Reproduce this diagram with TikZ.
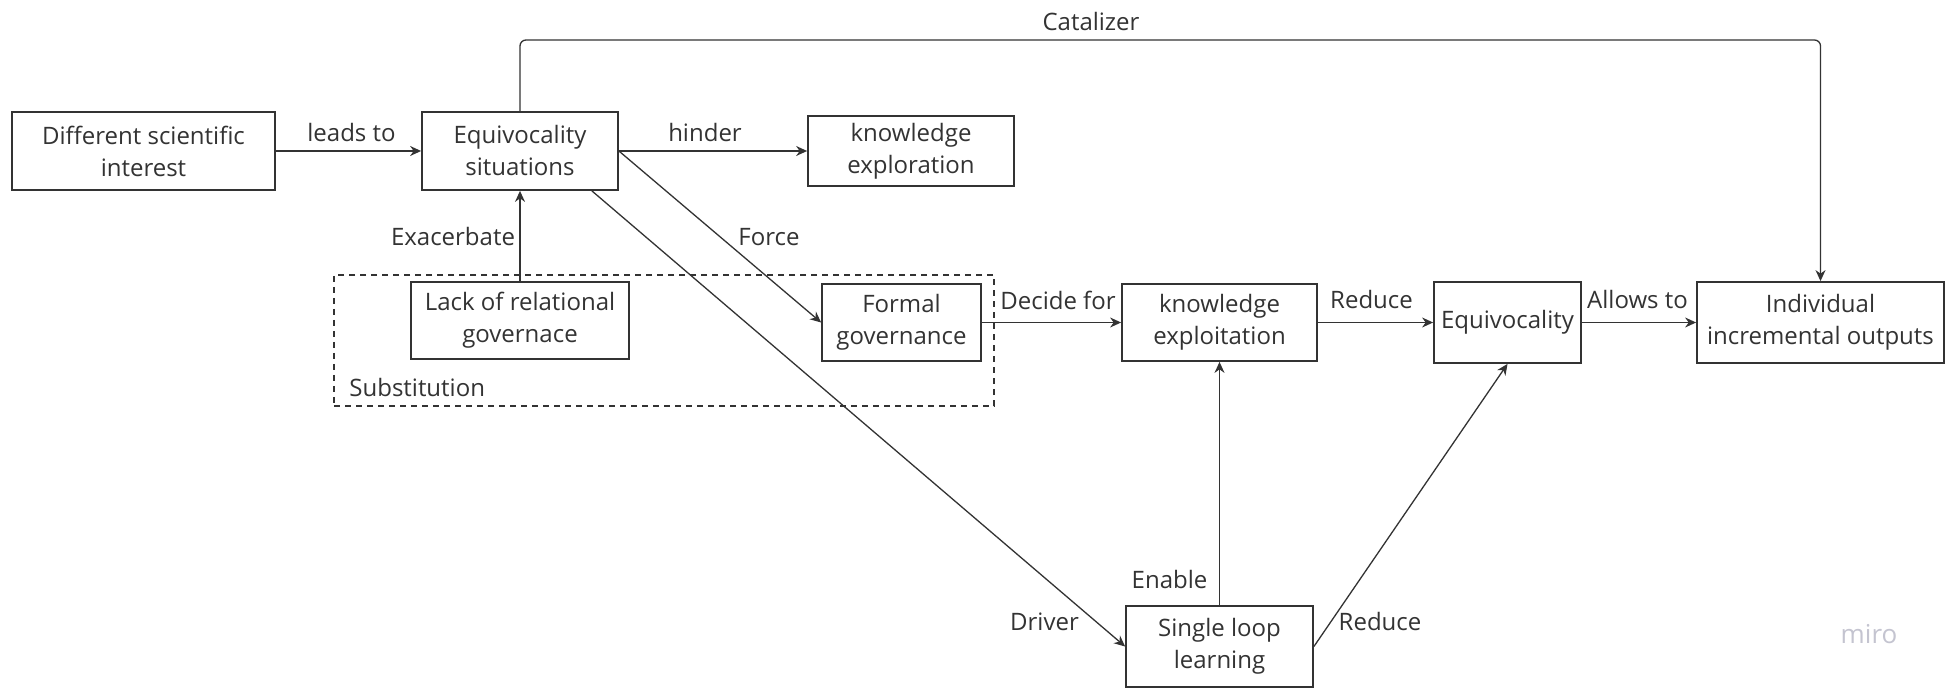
\documentclass[tikz,border=0pt]{standalone}
\usepackage{fontspec}
\setmainfont{Open Sans}
\usetikzlibrary{arrows.meta,calc}
\definecolor{ink}{HTML}{333333}
\definecolor{wm}{HTML}{C4C4D0}
\begin{document}
\begin{tikzpicture}[x=0.5pt,y=-0.5pt,
  box/.style={draw=ink, line width=0.9pt, text=ink, align=center, inner sep=0pt,
              font=\fontsize{12}{16}\selectfont},
  lbl/.style={text=ink, anchor=base, inner sep=0pt, font=\fontsize{12}{16}\selectfont},
  conn/.style={draw=ink, line width=0.65pt, -{Stealth[length=5.5pt,width=5pt]}},
  group/.style={draw=ink, line width=0.7pt, dash pattern=on 3pt off 2.5pt, inner sep=0pt},
]
\useasboundingbox[fill=white] (0,0) rectangle (1953,689);

% substitution group
\node[group, minimum width=330pt, minimum height=65.5pt] (subst) at (664,340.5) {};
\node[lbl, anchor=base west] (lsub) at (349,397) {Substitution};

% concepts
\node[box, minimum width=131.5pt, minimum height=39pt] (diff) at (143.5,151) {Different scientific\\interest};
\node[box, minimum width=98pt, minimum height=39pt] (eqs) at (520,151) {Equivocality\\situations};
\node[box, minimum width=103pt, minimum height=35pt] (kxr) at (911,151) {knowledge\\exploration};
\node[box, minimum width=109pt, minimum height=38.5pt] (lack) at (520,320.5) {Lack of relational\\governace};
\node[box, minimum width=79.5pt, minimum height=38.5pt] (formal) at (901.5,322.5) {Formal\\governance};
\node[box, minimum width=97.5pt, minimum height=38.5pt] (kxt) at (1219.5,322.5) {knowledge\\exploitation};
\node[box, minimum width=73.5pt, minimum height=40.5pt] (equiv) at (1507.5,322.5) {Equivocality};
\node[box, minimum width=123.5pt, minimum height=40.5pt] (indiv) at (1820.5,322.5) {Individual\\incremental outputs};
\node[box, minimum width=93.5pt, minimum height=40.5pt] (sll) at (1219.5,646.5) {Single loop\\learning};

% relations
\draw[conn] (diff) -- (eqs);
\draw[conn] (eqs) -- (kxr);
\draw[conn] (eqs.east) -- (formal.west);
\draw[conn] ([xshift=-13.5pt]eqs.south east) -- (sll.west);
\draw[conn] (lack) -- (eqs);
\draw[conn] (formal) -- (kxt);
\draw[conn] (kxt) -- (equiv);
\draw[conn] (equiv) -- (indiv);
\draw[conn] (sll) -- (kxt);
\draw[conn] (sll.east) -- (equiv.south);
\coordinate (ctop) at (1091,40);
\draw[conn, rounded corners=3pt] (eqs.north) |- (ctop) -| (indiv.north);

% relation labels
\node[lbl] (lleads) at (351.5,142) {leads to};
\node[lbl] (lhind) at (705,142) {hinder};
\node[lbl] (lexac) at (453,246) {Exacerbate};
\node[lbl] (lforce) at (769,246) {Force};
\node[lbl] (ldec) at (1058,310) {Decide for};
\node[lbl] (lred1) at (1371.5,309) {Reduce};
\node[lbl] (lallow) at (1637.5,309) {Allows to};
\node[lbl] (lcat) at (1091,31) {Catalizer};
\node[lbl] (lenab) at (1169.5,588) {Enable};
\node[lbl] (ldrv) at (1044.5,630) {Driver};
\node[lbl] (lred2) at (1380,630) {Reduce};

% watermark
\node[lbl, text=wm, font=\fontsize{13}{16}\selectfont] (wmk) at (1869,643) {miro};
\end{tikzpicture}
\end{document}
